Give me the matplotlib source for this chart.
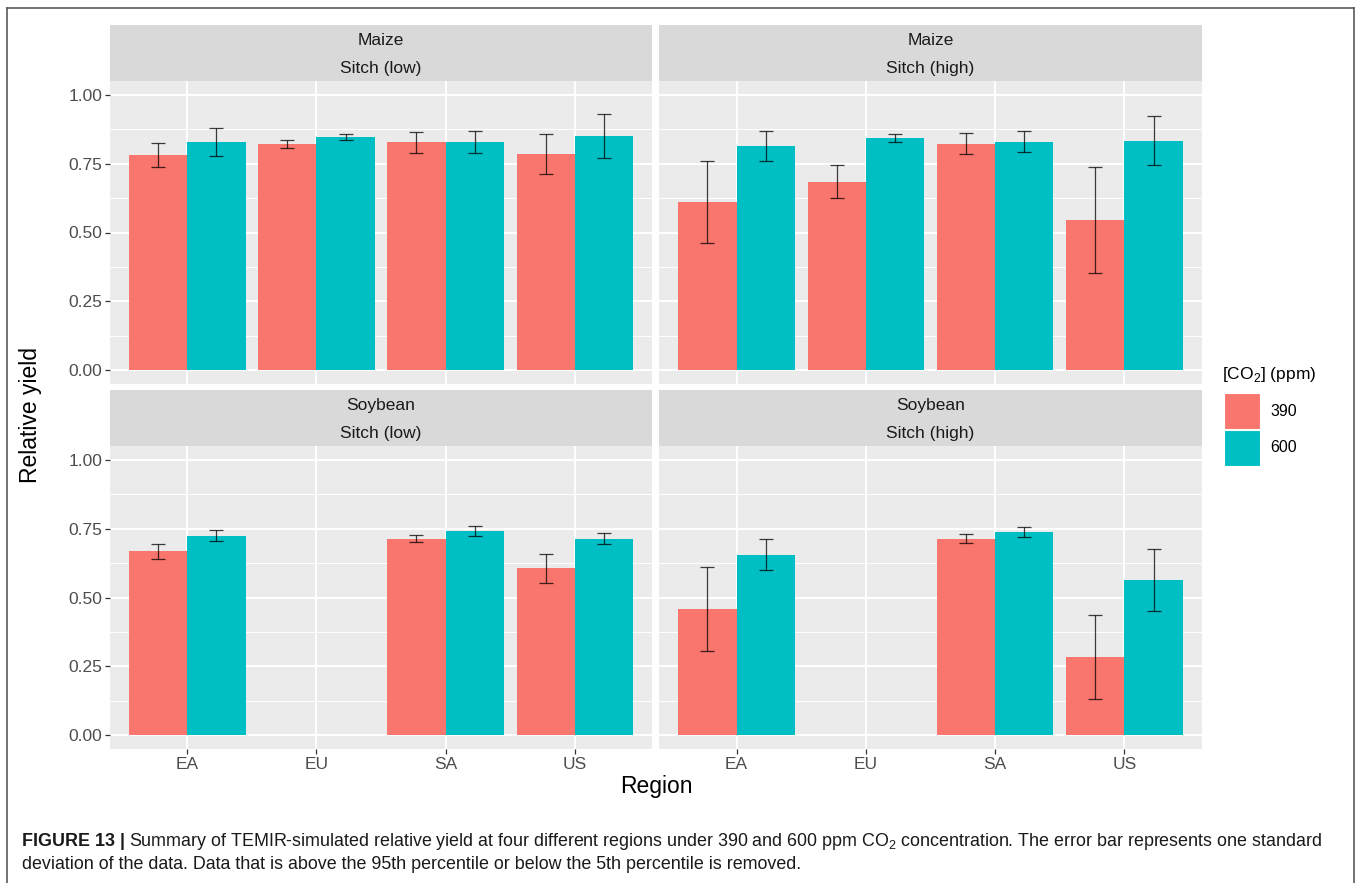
import numpy as np
import matplotlib
matplotlib.use('Agg')
import matplotlib.pyplot as plt
from matplotlib.lines import Line2D
from matplotlib.patches import Rectangle

# ---- data: mean relative yield and one standard deviation -----------------
regions = ['EA', 'EU', 'SA', 'US']
co2_levels = ['390', '600']

maize_low_390 = [0.781, 0.821, 0.827, 0.784]
maize_low_390_sd = [0.043, 0.015, 0.037, 0.073]
maize_low_600 = [0.829, 0.847, 0.829, 0.851]
maize_low_600_sd = [0.051, 0.012, 0.039, 0.081]

maize_high_390 = [0.611, 0.685, 0.822, 0.545]
maize_high_390_sd = [0.149, 0.061, 0.038, 0.193]
maize_high_600 = [0.815, 0.842, 0.830, 0.833]
maize_high_600_sd = [0.054, 0.015, 0.039, 0.089]

soy_low_390 = [0.667, np.nan, 0.714, 0.606]
soy_low_390_sd = [0.026, np.nan, 0.014, 0.053]
soy_low_600 = [0.724, np.nan, 0.742, 0.714]
soy_low_600_sd = [0.020, np.nan, 0.017, 0.021]

soy_high_390 = [0.457, np.nan, 0.713, 0.284]
soy_high_390_sd = [0.153, np.nan, 0.016, 0.153]
soy_high_600 = [0.655, np.nan, 0.737, 0.563]
soy_high_600_sd = [0.056, np.nan, 0.018, 0.113]

y_ticks = [0.0, 0.25, 0.5, 0.75, 1.0]
y_ticklabels = ['0.00', '0.25', '0.50', '0.75', '1.00']

panels = [
    ('Maize', 'Sitch (low)', maize_low_390, maize_low_390_sd, maize_low_600, maize_low_600_sd),
    ('Maize', 'Sitch (high)', maize_high_390, maize_high_390_sd, maize_high_600, maize_high_600_sd),
    ('Soybean', 'Sitch (low)', soy_low_390, soy_low_390_sd, soy_low_600, soy_low_600_sd),
    ('Soybean', 'Sitch (high)', soy_high_390, soy_high_390_sd, soy_high_600, soy_high_600_sd),
]

# ---- style --------------------------------------------------------------
col_390 = '#F8766D'
col_600 = '#00BFC4'
panel_bg = '#EBEBEB'
strip_bg = '#D9D9D9'

plt.rcParams['font.family'] = ['Liberation Sans', 'DejaVu Sans']
plt.rcParams['mathtext.fontset'] = 'custom'
plt.rcParams['mathtext.rm'] = 'Liberation Sans'

W, H = 1358, 883
fig = plt.figure(figsize=(W / 100, H / 100), dpi=100)
fig.patch.set_facecolor('white')


def px_axes(l, t, r, b):
    return fig.add_axes([l / W, 1 - b / H, (r - l) / W, (b - t) / H])


def fx(x):
    return x / W


def fy(y):
    return 1 - y / H


# panel boxes in pixels: (left, right) and (strip top, panel top, panel bottom)
cols = [(110, 652), (659, 1202)]
rows = [(25, 81, 384), (390, 446, 749)]

x = np.arange(1, len(regions) + 1)
bw = 0.45

for k, (crop, scheme, m390, s390, m600, s600) in enumerate(panels):
    l, r = cols[k % 2]
    st, pt, pb = rows[k // 2]

    # strip
    sax = px_axes(l, st, r, pt)
    sax.set_facecolor(strip_bg)
    sax.set_xticks([])
    sax.set_yticks([])
    for s in sax.spines.values():
        s.set_visible(False)
    sax.text(0.5, 0.72, crop, ha='center', va='center', fontsize=12.5,
             color='#1A1A1A', transform=sax.transAxes)
    sax.text(0.5, 0.23, scheme, ha='center', va='center', fontsize=12.5,
             color='#1A1A1A', transform=sax.transAxes)

    ax = px_axes(l, pt, r, pb)
    ax.set_facecolor(panel_bg)
    ax.set_xlim(0.4, 4.6)
    ax.set_ylim(-0.05, 1.05)
    ax.set_axisbelow(True)
    ax.set_yticks(y_ticks)
    ax.set_yticks([0.125, 0.375, 0.625, 0.875], minor=True)
    ax.set_xticks(x)
    ax.grid(True, which='major', color='white', lw=1.4)
    ax.grid(True, which='minor', axis='y', color='white', lw=0.7)
    for s in ax.spines.values():
        s.set_visible(False)

    ax.bar(x - bw / 2, m390, width=bw, color=col_390, zorder=2)
    ax.bar(x + bw / 2, m600, width=bw, color=col_600, zorder=2)
    ax.errorbar(x - bw / 2, m390, yerr=s390, fmt='none', ecolor='black',
                elinewidth=0.9, capsize=5, capthick=0.9, alpha=0.75, zorder=3)
    ax.errorbar(x + bw / 2, m600, yerr=s600, fmt='none', ecolor='black',
                elinewidth=0.9, capsize=5, capthick=0.9, alpha=0.75, zorder=3)

    ax.tick_params(which='minor', length=0)
    ax.tick_params(which='major', length=3.5, width=0.9, color='#333333',
                   labelcolor='#4D4D4D', labelsize=12.5, pad=2)
    if k % 2 == 0:
        ax.set_yticklabels(y_ticklabels)
    else:
        ax.tick_params(axis='y', length=0, labelleft=False)
    if k // 2 == 1:
        ax.set_xticklabels(regions)
    else:
        ax.tick_params(axis='x', length=0, labelbottom=False)

# axis titles
fig.text(fx(656), fy(786), 'Region', ha='center', va='center', fontsize=16.5)
fig.text(fx(30), fy(415), 'Relative yield', ha='center', va='center',
         fontsize=16.5, rotation=90)

# legend
fig.text(fx(1222), fy(374), '[CO$_2$] (ppm)', ha='left', va='center',
         fontsize=12.5, color='black')
for i, (lab, c) in enumerate(zip(co2_levels, [col_390, col_600])):
    top = 393 + i * 37
    fig.add_artist(Rectangle((fx(1224), fy(top + 36)), 36 / W, 36 / H,
                             transform=fig.transFigure, facecolor=c,
                             edgecolor='white', lw=0.8))
    fig.text(fx(1270), fy(top + 18), lab, ha='left', va='center',
             fontsize=11.5, color='black')

# frame around the figure
frame_c = '#5A5A5A'
fig.add_artist(Line2D([fx(7), fx(7)], [fy(8), 0], transform=fig.transFigure,
                      color=frame_c, lw=1.2))
fig.add_artist(Line2D([fx(7), fx(1354)], [fy(8), fy(8)],
                      transform=fig.transFigure, color=frame_c, lw=1.2))
fig.add_artist(Line2D([fx(1354), fx(1354)], [fy(8), 0],
                      transform=fig.transFigure, color=frame_c, lw=1.2))

# caption
cap_font = ['Liberation Sans Narrow', 'Liberation Sans', 'DejaVu Sans']
cap_size = 12.9
renderer = fig.canvas.get_renderer()
t1 = fig.text(fx(22), fy(846), 'FIGURE 13 |', ha='left', va='baseline',
              fontsize=cap_size, fontweight='bold', family=cap_font, color='#1A1A1A')
bb = t1.get_window_extent(renderer=renderer)
fig.text(bb.x1 / W + 4 / W, fy(846),
         'Summary of TEMIR-simulated relative yield at four different regions under '
         '390 and 600 ppm CO$_2$ concentration. The error bar represents one standard',
         ha='left', va='baseline', fontsize=cap_size, family=cap_font, color='#1A1A1A')
fig.text(fx(22), fy(869),
         'deviation of the data. Data that is above the 95th percentile or below '
         'the 5th percentile is removed.',
         ha='left', va='baseline', fontsize=cap_size, family=cap_font, color='#1A1A1A')

fig.savefig('out.png', dpi=100)
